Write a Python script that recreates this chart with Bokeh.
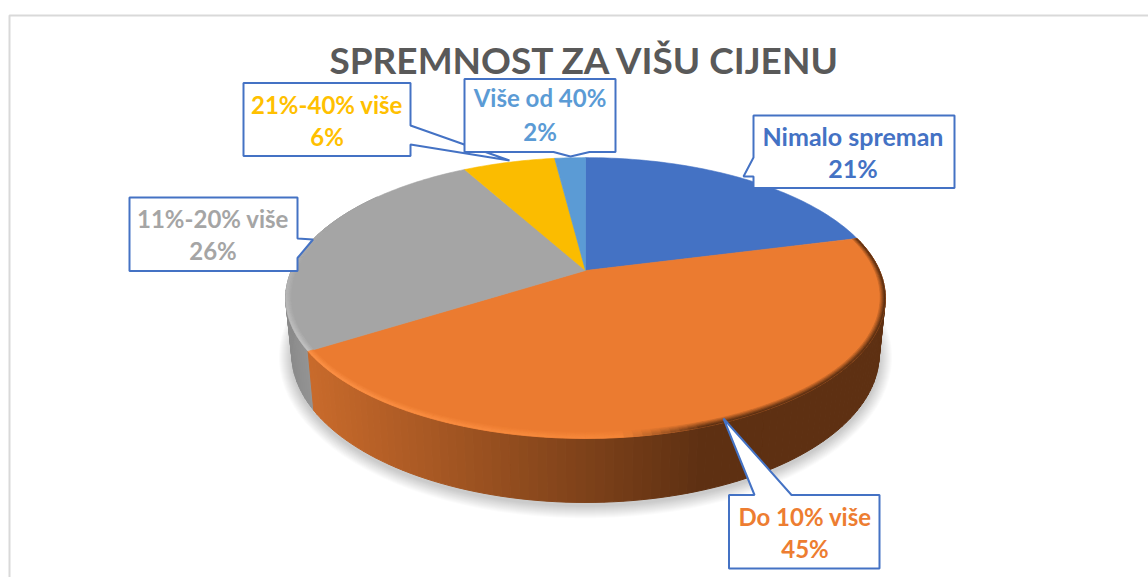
import math
from bokeh.plotting import figure
from bokeh.embed import file_html
from bokeh.resources import INLINE
from bokeh.core.properties import value

# ---------- data ----------
TITLE = "SPREMNOST ZA VIŠU CIJENU"
categories = ["Nimalo spreman", "Do 10% više", "11%-20% više", "21%-40% više", "Više od 40%"]
shares = [21, 45, 26, 6, 2]
colors = ["#4472C4", "#EB7B30", "#A5A5A5", "#FBBC00", "#5B9BD5"]
label_colors = ["#4472C4", "#ED7D31", "#A5A5A5", "#FFC000", "#5B9BD5"]

# ---------- layout (page pixels) ----------
CX = 585
TOP = dict(y0=270.0, a=294.0, b=135.0, k=0.196)
BOT = dict(y0=324.6, a=288.0, b=142.6, k=0.196)
SIDE_DARK = "#5E3012"
FRAME = "#D9D9D9"
BORDER = "#4472C4"
label_xy = [(852.5, 135, 167.5), (804.5, 515.5, 547.5), (212.5, 218, 249.5), (326.5, 103.5, 135.5), (539.5, 97, 130.5)]
label_sizes = ["25px", "24px", "24px", "24px", "24px"]
callouts = [
    [(753, 115), (954, 115), (954, 187.5), (753, 187.5), (753, 176), (743, 176), (753, 157)],
    [(728.5, 494.5), (754, 494.5), (723, 418), (791, 494.5), (879, 494.5), (879, 568), (728.5, 568)],
    [(129, 197), (297, 197), (297, 238), (312.5, 239), (297, 257.5), (297, 270.5), (129, 270.5)],
    [(243, 82.5), (410, 82.5), (410, 125), (509, 160), (410, 144), (410, 155.5), (243, 155.5)],
    [(464, 78.5), (615, 78.5), (615, 151.5), (589, 151.5), (570, 156), (553, 151.5), (464, 151.5)],
]


def proj(theta, pr, r=1.0):
    u, v = math.sin(theta) * r, math.cos(theta) * r
    d = 1 + pr["k"] * v
    return CX + pr["a"] * u / d, pr["y0"] - pr["b"] * v / d


def hex2rgb(c):
    return tuple(int(c[i:i + 2], 16) for i in (1, 3, 5))


def mix(c1, c2, t):
    t = max(0.0, min(1.0, t))
    a, b = hex2rgb(c1), hex2rgb(c2)
    return "#%02x%02x%02x" % tuple(round(a[i] + (b[i] - a[i]) * t) for i in range(3))


def arange(a, b, step):
    n = max(2, int(abs(b - a) / step) + 1)
    return [a + (b - a) * i / (n - 1) for i in range(n)]


# slice angles from the shares
total = sum(shares)
edges = [0.0]
for s in shares:
    edges.append(edges[-1] + s / total * 2 * math.pi)
o0, o1 = edges[1], edges[2]   # orange slice
g0, g1 = edges[2], edges[3]   # grey slice

p = figure(width=1148, height=577, x_range=(0, 1148), y_range=(577, 0),
           output_backend="svg", toolbar_location=None, min_border=0,
           outline_line_color=None, background_fill_color="white", border_fill_color="white")
p.axis.visible = False
p.grid.visible = False

# chart frame
p.line([9, 9, 1148], [577, 15, 15], line_color=FRAME, line_width=2)

# soft shadow below the pie
for e in range(13, 0, -1):
    pts = [proj(t, BOT) for t in arange(0, 2 * math.pi, math.radians(3))]
    xs = [CX + (x - CX) * (1 + e / 295) for x, y in pts]
    ys = [353 + (y - 353) * (1 + e / 150) + 3 for x, y in pts]
    p.patch(xs, ys, fill_color="#000000", fill_alpha=0.016, line_color=None)


# side wall
def side_color(x, idx):
    if idx == 2:
        return mix("#8B8B8B", "#999999", (x - 290) / 30)
    return mix("#C86A2B", SIDE_DARK, (x - 313) / (700 - 313))


sx, sy, sc = [], [], []
for idx, a0, a1 in ((2, g0, g0 + math.radians(70)), (1, o0, o1)):
    ts = arange(a0, a1, math.radians(1.5))
    for t0, t1 in zip(ts, ts[1:]):
        A, B = proj(t0, TOP), proj(t1, TOP)
        C, D = proj(t1, BOT), proj(t0, BOT)
        sx.append([A[0], B[0], C[0], D[0]])
        sy.append([A[1], B[1], C[1], D[1]])
        sc.append(side_color((A[0] + B[0] + C[0] + D[0]) / 4, idx))
p.patches(sx, sy, fill_color=sc, line_color=sc, line_width=1)

# top faces
fx, fy = [], []
for i in range(len(shares)):
    pts = [proj(t, TOP) for t in arange(edges[i], edges[i + 1], math.radians(1))]
    fx.append([CX] + [q[0] for q in pts])
    fy.append([TOP["y0"]] + [q[1] for q in pts])
p.patches(fx, fy, fill_color=colors, line_color=colors, line_width=0.6)


# bevel at the rim
def rim_color(idx, theta):
    x, y = proj(theta, TOP)
    if idx == 1:
        if x < 620:
            return mix("#FB9045", "#F58638", (x - 310) / 310), 1.0
        return mix("#F58638", SIDE_DARK, (x - 620) / 85), 1.0
    s = 1 - (theta - g0) / math.radians(52)
    return "#C2C2C2", max(0.0, s)


BAND = 5.0
steps = 4
bx, by, bc = [], [], []
for idx, a0, a1 in ((2, g0, g0 + math.radians(52)), (1, o0, o1)):
    base = colors[idx]
    ts = arange(a0, a1, math.radians(1.5))
    for t0, t1 in zip(ts, ts[1:]):
        tm = (t0 + t1) / 2
        rc, st = rim_color(idx, tm)
        ex, ey = proj(tm, TOP)
        width = BAND / math.hypot(ex - CX, ey - TOP["y0"])
        for j in range(steps):
            r0, r1 = 1 - width * (1 - j / steps), 1 - width * (1 - (j + 1) / steps)
            A, B = proj(t0, TOP, r0), proj(t1, TOP, r0)
            C, D = proj(t1, TOP, r1), proj(t0, TOP, r1)
            bx.append([A[0], B[0], C[0], D[0]])
            by.append([A[1], B[1], C[1], D[1]])
            bc.append(mix(base, rc, st * (j + 1) / steps))
p.patches(bx, by, fill_color=bc, line_color=bc, line_width=0.6)

# callouts
for c in callouts:
    p.patch([q[0] for q in c], [q[1] for q in c], fill_color="white", line_color=BORDER, line_width=2)

font = value("Lato")
for i, (cat, v) in enumerate(zip(categories, shares)):
    x, y1, y2 = label_xy[i]
    p.text([x, x], [y1, y2], text=[cat, f"{v}%"], text_font=font, text_font_style="bold",
           text_font_size=label_sizes[i], text_color=label_colors[i], text_align="center", text_baseline="middle")

p.text([585], [59], text=[TITLE], text_font=font, text_font_style="bold", text_font_size="37px",
       text_color="#595959", text_align="center", text_baseline="middle")

open("out.html", "w").write(file_html(p, INLINE))
